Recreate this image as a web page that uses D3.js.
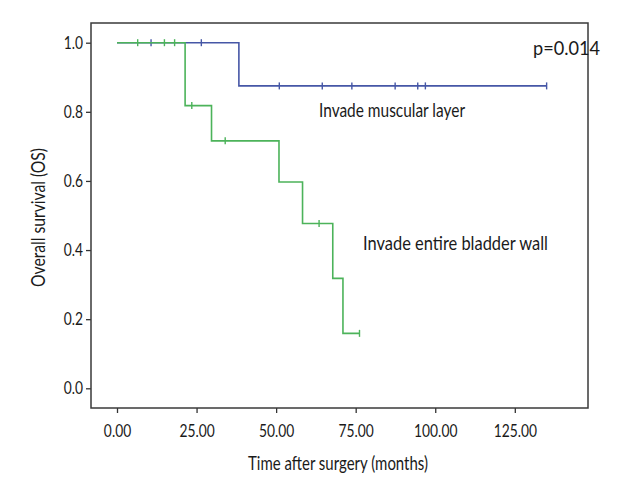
<!DOCTYPE html>
<html>
<head>
<meta charset="utf-8">
<script src="https://cdn.jsdelivr.net/npm/d3@7"></script>
<style>
  html, body { margin: 0; padding: 0; background: #fff; }
  svg text { font-family: Lato, "Open Sans", "DejaVu Sans Condensed", sans-serif; fill: #1a1a1a; }
</style>
</head>
<body>
<svg id="chart" width="640" height="500"></svg>
<script>
// ---- Data ----
// Kaplan-Meier step points: [time, survival]
const muscularSteps = [[0, 1.0], [38.3, 0.875], [135, 0.875]];
const muscularCensored = [10.7, 26.5, 51, 64.5, 73.8, 87.4, 94.5, 96.9, 135];

const wallSteps = [[0, 1.0], [21.4, 0.818], [29.7, 0.716], [50.9, 0.597], [58.3, 0.477], [67.8, 0.318], [71.0, 0.159], [76.2, 0.159]];
const wallCensored = [6.5, 14.9, 18.1, 23.5, 34, 63.5, 76.2];

const xTicks = [0, 25, 50, 75, 100, 125];
const yTicks = [0, 0.2, 0.4, 0.6, 0.8, 1.0];

const seriesLabels = ["Invade muscular layer", "Invade entire bladder wall"];
const pLabel = "p=0.014";
const xTitle = "Time after surgery (months)";
const yTitle = "Overall survival (OS)";

// ---- Layout ----
const box = { left: 91, right: 588, top: 23, bottom: 408 };
const svg = d3.select("#chart");

const x = d3.scaleLinear().domain([-8.17, 148.0]).range([box.left, box.right]);
const y = d3.scaleLinear().domain([-0.057, 1.057]).range([box.bottom, box.top]);

// condensed look: squeeze text horizontally while keeping it real text
function squeeze(sel, k) {
  sel.each(function () {
    const w = this.getComputedTextLength();
    d3.select(this).attr("textLength", w * k).attr("lengthAdjust", "spacingAndGlyphs");
  });
}
function fitTo(sel, target) {
  sel.attr("textLength", target).attr("lengthAdjust", "spacingAndGlyphs");
}

// Axes
const xAxis = d3.axisBottom(x).tickValues(xTicks).tickFormat(d3.format(".2f")).tickSize(5).tickPadding(12).tickSizeOuter(0);
const yAxis = d3.axisLeft(y).tickValues(yTicks).tickFormat(d3.format(".1f")).tickSize(5).tickPadding(3).tickSizeOuter(0);

const gx = svg.append("g").attr("transform", `translate(0,${box.bottom})`).call(xAxis);
const gy = svg.append("g").attr("transform", `translate(${box.left},0)`).call(yAxis);
[gx, gy].forEach(g => {
  g.select(".domain").remove();
  g.selectAll(".tick line").attr("stroke", "#333").attr("stroke-width", 1.3);
  g.selectAll(".tick text").style("font-size", "17px").attr("fill", "#1a1a1a").style("font-family", null);
});
// widths: "125.00" ≈ 43px in the reference
const refTick = gx.selectAll(".tick text").filter(d => d === 125).node();
const tickK = 43.3 / refTick.getComputedTextLength();
squeeze(gx.selectAll(".tick text"), tickK);
squeeze(gy.selectAll(".tick text"), tickK);

// Frame
svg.append("rect")
  .attr("x", box.left).attr("y", box.top)
  .attr("width", box.right - box.left).attr("height", box.bottom - box.top)
  .attr("fill", "none").attr("stroke", "#3a3a3a").attr("stroke-width", 1.5);

// Step lines
const line = d3.line().x(d => x(d[0])).y(d => y(d[1])).curve(d3.curveStepAfter);

function survivalAt(steps, t) {
  let s = steps[0][1];
  for (const p of steps) { if (p[0] <= t) s = p[1]; }
  return s;
}

function drawSeries(steps, censored, color) {
  svg.append("path").datum(steps)
    .attr("d", line).attr("fill", "none")
    .attr("stroke", color).attr("stroke-width", 1.6);
  svg.append("g").selectAll("line").data(censored).join("line")
    .attr("x1", d => x(d)).attr("x2", d => x(d))
    .attr("y1", d => y(survivalAt(steps, d)) - 3.5)
    .attr("y2", d => y(survivalAt(steps, d)) + 3.5)
    .attr("stroke", color).attr("stroke-width", 1.4);
}

drawSeries(muscularSteps, muscularCensored, "#4657a6");
drawSeries(wallSteps, wallCensored, "#4cb35a");

// Labels
fitTo(svg.append("text").attr("x", 319).attr("y", 117).style("font-size", "19px").text(seriesLabels[0]), 146);
fitTo(svg.append("text").attr("x", 363).attr("y", 250).style("font-size", "19px").text(seriesLabels[1]), 185);
fitTo(svg.append("text").attr("x", 533).attr("y", 55).style("font-size", "19px").text(pLabel), 67);

// Axis titles
fitTo(svg.append("text").attr("x", 338).attr("y", 470)
  .attr("text-anchor", "middle").style("font-size", "19px").text(xTitle), 180);
fitTo(svg.append("text")
  .attr("transform", `translate(45,217.5) rotate(-90)`)
  .attr("text-anchor", "middle").style("font-size", "19px").text(yTitle), 139);
</script>
</body>
</html>
